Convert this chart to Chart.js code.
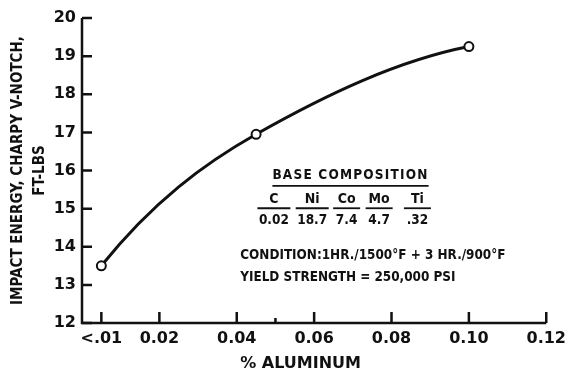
<!DOCTYPE html>
<html>
<head>
<meta charset="utf-8">
<script src="https://cdn.jsdelivr.net/npm/chart.js@4.4.1/dist/chart.umd.min.js"></script>
<style>
  html, body { margin: 0; padding: 0; background: #fff; }
  #wrap { width: 572px; height: 374px; }
</style>
</head>
<body>
<div id="wrap"><canvas id="c" width="572" height="374"></canvas></div>
<script>
// Impact energy vs. aluminum content
const aluminumPct = [0.005, 0.045, 0.10];
const impactEnergy = [13.5, 16.95, 19.25];

// Axis ticks and labels
const xTickValues = [0.005, 0.02, 0.04, 0.06, 0.08, 0.10, 0.12];
const xTickLabels = ['<.01', '0.02', '0.04', '0.06', '0.08', '0.10', '0.12'];
const xMinorTicks = [0.05];
const yTickValues = [12, 13, 14, 15, 16, 17, 18, 19, 20];

const xTitle = '% ALUMINUM';
const yTitle = ['IMPACT ENERGY, CHARPY V-NOTCH,', 'FT-LBS'];

// Base composition table
const elements = ['C', 'Ni', 'Co', 'Mo', 'Ti'];
const elementValues = ['0.02', '18.7', '7.4', '4.7', '.32'];
const elementX = [0.0496, 0.0595, 0.0684, 0.0768, 0.0867];
const notes = [
  'CONDITION:1HR./1500°F + 3 HR./900°F',
  'YIELD STRENGTH = 250,000 PSI'
];

const INK = '#111';
const FONT = '"DejaVu Sans", sans-serif';
const FONT_C = '"DejaVu Sans Condensed", "DejaVu Sans", sans-serif';
const END_BEND = 1.4;   // how strongly the curve bends at its ends

// Smooth curve: PCHIP-style tangents inside, bent tangents at the ends,
// written into the bezier control points that Chart.js strokes.
const fairCurve = {
  id: 'fairCurve',
  beforeDatasetsDraw(chart) {
    const meta = chart.getDatasetMeta(0);
    const line = meta.dataset;
    if (line && line.updateControlPoints) line.updateControlPoints(chart.chartArea, 'x');
    const pts = meta.data;
    const n = pts.length;
    if (n < 3) return;
    const h = [], s = [];
    for (let i = 0; i < n - 1; i++) {
      h.push(pts[i + 1].x - pts[i].x);
      s.push((pts[i + 1].y - pts[i].y) / h[i]);
    }
    const m = new Array(n);
    for (let i = 1; i < n - 1; i++) {
      const w1 = 2 * h[i] + h[i - 1], w2 = h[i] + 2 * h[i - 1];
      m[i] = (s[i - 1] * s[i] > 0) ? (w1 + w2) / (w1 / s[i - 1] + w2 / s[i]) : 0;
    }
    m[0] = s[0] + END_BEND * (s[0] - m[1]);
    m[n - 1] = s[n - 2] + END_BEND * (s[n - 2] - m[n - 2]);
    for (let i = 0; i < n; i++) {
      const p = pts[i];
      const hb = i > 0 ? h[i - 1] / 3 : 0;
      const ha = i < n - 1 ? h[i] / 3 : 0;
      p.cp1x = p.x - hb; p.cp1y = p.y - m[i] * hb;
      p.cp2x = p.x + ha; p.cp2y = p.y + m[i] * ha;
    }
  }
};

const axesAndNotes = {
  id: 'axesAndNotes',
  afterDraw(chart) {
    const { ctx, chartArea: a, scales: { x, y } } = chart;
    ctx.save();
    ctx.strokeStyle = INK;
    ctx.fillStyle = INK;

    // axis lines
    ctx.lineWidth = 2.5;
    ctx.beginPath();
    ctx.moveTo(a.left, y.getPixelForValue(20));
    ctx.lineTo(a.left, a.bottom);
    ctx.lineTo(x.getPixelForValue(0.12), a.bottom);
    ctx.stroke();

    // inward ticks
    ctx.beginPath();
    yTickValues.forEach(v => {
      const py = y.getPixelForValue(v);
      ctx.moveTo(a.left, py);
      ctx.lineTo(a.left + 10, py);
    });
    xTickValues.forEach(v => {
      const px = x.getPixelForValue(v);
      ctx.moveTo(px, a.bottom);
      ctx.lineTo(px, a.bottom - 11);
    });
    xMinorTicks.forEach(v => {
      const px = x.getPixelForValue(v);
      ctx.moveTo(px, a.bottom);
      ctx.lineTo(px, a.bottom - 5);
    });
    ctx.stroke();

    // x-axis title
    ctx.font = 'bold 16px ' + FONT;
    ctx.textAlign = 'center';
    ctx.textBaseline = 'middle';
    ctx.fillText(xTitle, x.getPixelForValue(0.0565), 364);

    // base composition block
    const label = (text, vx, vy, size, align, spacing) => {
      ctx.font = 'bold ' + size + 'px ' + FONT_C;
      ctx.letterSpacing = (spacing || 0) + 'px';
      ctx.textAlign = align;
      ctx.textBaseline = 'middle';
      const px = x.getPixelForValue(vx), py = y.getPixelForValue(vy);
      ctx.fillText(text, px, py);
      const w = ctx.measureText(text).width;
      ctx.letterSpacing = '0px';
      return { px, py, w };
    };
    ctx.lineWidth = 1.8;
    const head = label('BASE COMPOSITION', 0.0694, 15.86, 13.5, 'center', 1.2);
    ctx.beginPath();
    ctx.moveTo(head.px - head.w / 2, head.py + 10);
    ctx.lineTo(head.px + head.w / 2, head.py + 10);
    ctx.stroke();

    elements.forEach((el, i) => {
      label(el, elementX[i], 15.23, 14, 'center');
      const v = label(elementValues[i], elementX[i], 14.70, 13.5, 'center');
      const half = Math.max(v.w, 24) / 2 + 1.5;
      const ly = y.getPixelForValue(15.01);
      ctx.beginPath();
      ctx.moveTo(v.px - half, ly);
      ctx.lineTo(v.px + half, ly);
      ctx.stroke();
    });

    label(notes[0], 0.0409, 13.78, 13.4, 'left');
    label(notes[1], 0.0409, 13.18, 13.4, 'left');
    ctx.restore();
  }
};

new Chart(document.getElementById('c'), {
  type: 'line',
  data: {
    datasets: [{
      data: aluminumPct.map((v, i) => ({ x: v, y: impactEnergy[i] })),
      borderColor: INK,
      borderWidth: 3,
      tension: 0.4,
      pointRadius: 4.5,
      pointBorderWidth: 2,
      pointBorderColor: INK,
      pointBackgroundColor: '#fff'
    }]
  },
  options: {
    responsive: false,
    animation: false,
    devicePixelRatio: 1,
    layout: { autoPadding: false, padding: { left: 0, top: 18, right: 18, bottom: 0 } },
    plugins: { legend: { display: false }, tooltip: { enabled: false } },
    scales: {
      x: {
        type: 'linear',
        min: 0,
        max: 0.12,
        afterFit: s => { s.height = 51; },
        afterBuildTicks: s => { s.ticks = xTickValues.map(v => ({ value: v })); },
        grid: { display: false, drawTicks: false },
        border: { display: false },
        ticks: {
          padding: 6,
          color: INK,
          maxRotation: 0,
          autoSkip: false,
          font: { family: FONT, size: 16, weight: 'bold' },
          callback: v => xTickLabels[xTickValues.indexOf(v)]
        }
      },
      y: {
        type: 'linear',
        min: 12,
        max: 20,
        afterFit: s => { s.width = 82; },
        afterBuildTicks: s => { s.ticks = yTickValues.map(v => ({ value: v })); },
        grid: { display: false, drawTicks: false },
        border: { display: false },
        ticks: {
          padding: 6,
          color: INK,
          font: { family: FONT, size: 16, weight: 'bold' },
          callback: v => String(v)
        },
        title: {
          display: true,
          text: yTitle,
          color: INK,
          padding: { top: 7, bottom: 0 },
          font: { family: FONT_C, size: 15, weight: 'bold', lineHeight: 1.45 }
        }
      }
    }
  },
  plugins: [fairCurve, axesAndNotes]
});
</script>
</body>
</html>
